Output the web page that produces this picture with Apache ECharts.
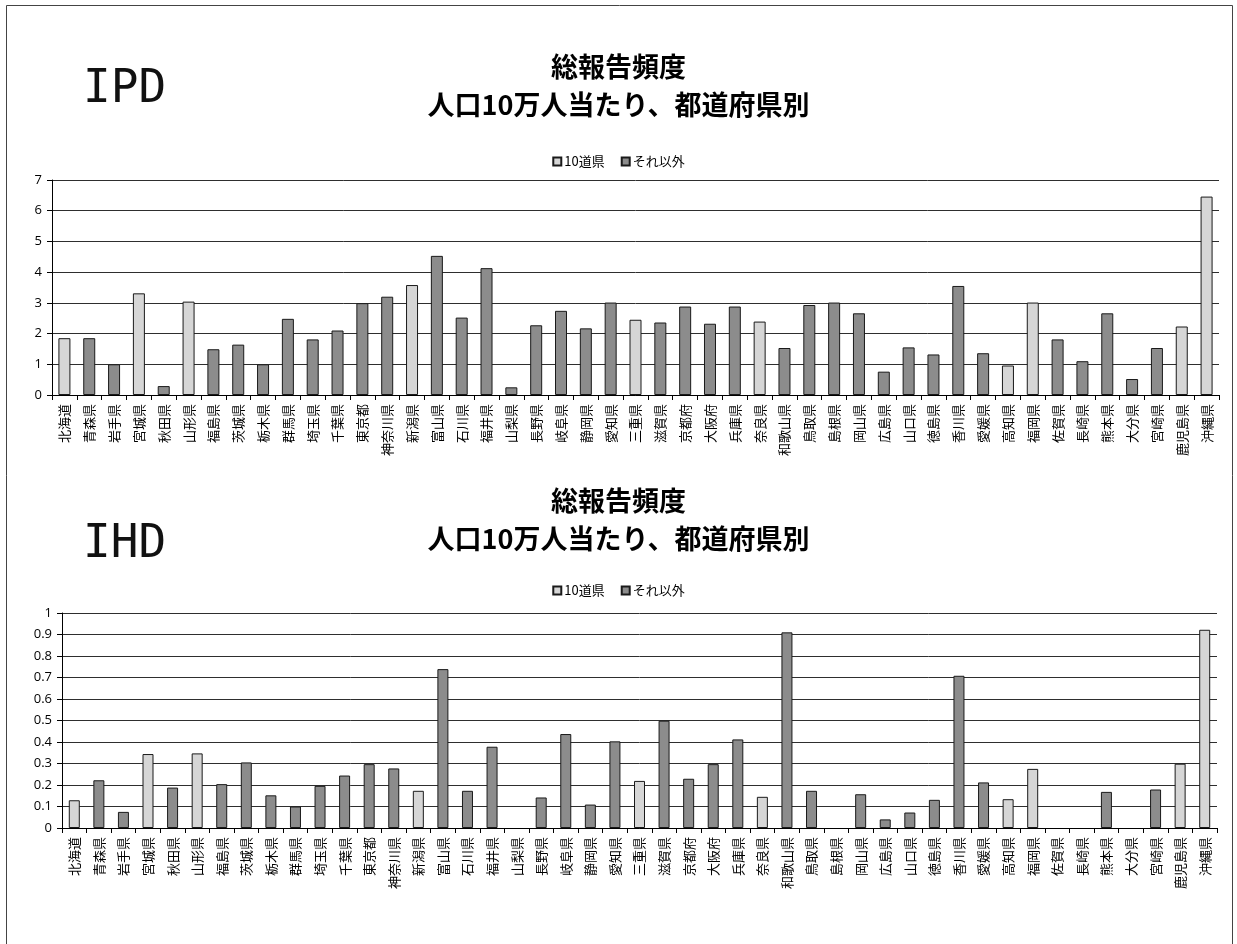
<!DOCTYPE html>
<html>
<head>
<meta charset="utf-8">
<script src="https://cdn.jsdelivr.net/npm/echarts@6/dist/echarts.min.js"></script>
<style>
  html, body { margin: 0; padding: 0; background: #fff; }
  #chart { width: 1237px; height: 944px; }
</style>
</head>
<body>
<div id="chart"></div>
<script>
// 都道府県（北から南）
const prefectures = [
  '北海道','青森県','岩手県','宮城県','秋田県','山形県','福島県','茨城県','栃木県','群馬県',
  '埼玉県','千葉県','東京都','神奈川県','新潟県','富山県','石川県','福井県','山梨県','長野県',
  '岐阜県','静岡県','愛知県','三重県','滋賀県','京都府','大阪府','兵庫県','奈良県','和歌山県',
  '鳥取県','島根県','岡山県','広島県','山口県','徳島県','香川県','愛媛県','高知県','福岡県',
  '佐賀県','長崎県','熊本県','大分県','宮崎県','鹿児島県','沖縄県'
];

// 10道県
const tenPrefectures = ['北海道','宮城県','山形県','新潟県','三重県','奈良県','高知県','福岡県','鹿児島県','沖縄県'];

// IPD 総報告頻度（人口10万人当たり）
const ipdValues = [
  1.85, 1.85, 1.00, 3.31, 0.29, 3.04, 1.49, 1.64, 1.00, 2.48,
  1.81, 2.10, 2.99, 3.20, 3.58, 4.53, 2.52, 4.13, 0.25, 2.27,
  2.74, 2.17, 3.01, 2.45, 2.36, 2.88, 2.32, 2.88, 2.39, 1.53,
  2.93, 3.01, 2.66, 0.76, 1.55, 1.32, 3.55, 1.36, 0.96, 3.01,
  1.81, 1.10, 2.66, 0.52, 1.53, 2.23, 6.46
];

// IHD 総報告頻度（人口10万人当たり）
const ihdValues = [
  0.129, 0.222, 0.075, 0.344, 0.188, 0.347, 0.204, 0.305, 0.152, 0.100,
  0.196, 0.244, 0.297, 0.277, 0.173, 0.739, 0.173, 0.378, 0, 0.142,
  0.437, 0.109, 0.403, 0.219, 0.499, 0.229, 0.297, 0.412, 0.145, 0.910,
  0.173, 0, 0.157, 0.040, 0.072, 0.131, 0.708, 0.212, 0.134, 0.275,
  0, 0, 0.168, 0, 0.179, 0.299, 0.922
];

const ipdTicks = { min: 0, max: 7, interval: 1 };
const ihdTicks = { min: 0, max: 1, interval: 0.1 };

const seriesNames = ['10道県', 'それ以外'];
const LIGHT = '#d6d6d6';
const DARK = '#8c8c8c';
const EDGE = '#1a1a1a';
const GRID_LINE = '#2e2e2e';
const CJK = '"Noto Sans CJK JP", "Noto Sans", sans-serif';

// split one value list into the two groups; a zero report draws no bar
function splitGroups(values) {
  const shown = v => (v === 0 ? '-' : v);
  const inTen = prefectures.map((p, i) => tenPrefectures.includes(p) ? shown(values[i]) : '-');
  const others = prefectures.map((p, i) => tenPrefectures.includes(p) ? '-' : shown(values[i]));
  return [inTen, others];
}

function barSeries(values, axisIndex, barWidth) {
  const groups = splitGroups(values);
  return groups.map((data, k) => ({
    name: seriesNames[k],
    type: 'bar',
    stack: 'pref' + axisIndex,
    xAxisIndex: axisIndex,
    yAxisIndex: axisIndex,
    barWidth: barWidth,
    data: data,
    itemStyle: { color: k === 0 ? LIGHT : DARK, borderColor: EDGE, borderWidth: 1 },
    emphasis: { disabled: true }
  }));
}

function categoryAxis(gridIndex) {
  return {
    type: 'category',
    gridIndex: gridIndex,
    data: prefectures,
    axisLine: { lineStyle: { color: '#000', width: 1 } },
    axisTick: { show: true, length: 5, lineStyle: { color: '#000' } },
    axisLabel: {
      rotate: 90, interval: 0, margin: 9,
      fontFamily: CJK, fontSize: 13, color: '#000'
    }
  };
}

function valueAxis(gridIndex, ticks, formatter) {
  return {
    type: 'value',
    gridIndex: gridIndex,
    min: ticks.min, max: ticks.max, interval: ticks.interval,
    axisLine: { show: true, lineStyle: { color: '#000', width: 1 } },
    axisTick: { show: true, length: 5, lineStyle: { color: '#000' } },
    splitLine: { show: true, lineStyle: { color: GRID_LINE, width: 1 } },
    axisLabel: {
      margin: 10, fontFamily: '"Open Sans", sans-serif', fontSize: 13, color: '#000',
      formatter: formatter
    }
  };
}

const titleStyle = {
  fontFamily: CJK, fontSize: 27, fontWeight: 'bold', color: '#000', lineHeight: 38
};
const tagStyle = {
  fontFamily: '"DejaVu Sans Mono", monospace', fontSize: 46, fontWeight: 'normal', color: '#111'
};
const legendBase = {
  data: seriesNames,
  left: 'center',
  icon: 'rect',
  itemWidth: 8, itemHeight: 8, itemGap: 16,
  selectedMode: false,
  textStyle: { fontFamily: CJK, fontSize: 13, color: '#000', padding: [0, 0, 0, -2] }
};

const chart = echarts.init(document.getElementById('chart'), null, { renderer: 'canvas' });
chart.setOption({
  backgroundColor: '#fff',
  animation: false,
  title: [
    { text: '総報告頻度\n人口10万人当たり、都道府県別', left: 'center', top: 43, textStyle: titleStyle },
    { text: 'IPD', left: 78, top: 62, textStyle: tagStyle },
    { text: '総報告頻度\n人口10万人当たり、都道府県別', left: 'center', top: 477, textStyle: titleStyle },
    { text: 'IHD', left: 78, top: 517, textStyle: tagStyle }
  ],
  legend: [
    Object.assign({ top: 150 }, legendBase),
    Object.assign({ top: 579 }, legendBase)
  ],
  grid: [
    { left: 52, right: 18, top: 180, height: 215 },
    { left: 62, right: 20, top: 613, height: 215 }
  ],
  xAxis: [categoryAxis(0), categoryAxis(1)],
  yAxis: [
    valueAxis(0, ipdTicks, v => String(v)),
    valueAxis(1, ihdTicks, v => String(Math.round(v * 10) / 10))
  ],
  series: [].concat(barSeries(ipdValues, 0, 12), barSeries(ihdValues, 1, 11)),
  graphic: [
    {
      type: 'rect',
      shape: { x: 6.5, y: 5.5, width: 1226, height: 960 },
      style: { fill: 'none', stroke: '#444', lineWidth: 1 },
      silent: true
    }
  ]
});
</script>
</body>
</html>
